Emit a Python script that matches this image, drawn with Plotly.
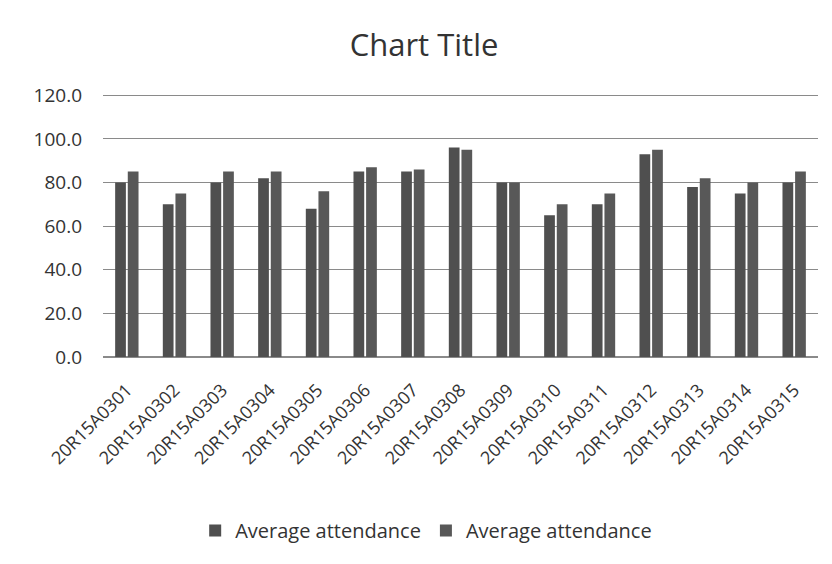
import plotly.graph_objects as go

students = ["20R15A0301", "20R15A0302", "20R15A0303", "20R15A0304", "20R15A0305",
            "20R15A0306", "20R15A0307", "20R15A0308", "20R15A0309", "20R15A0310",
            "20R15A0311", "20R15A0312", "20R15A0313", "20R15A0314", "20R15A0315"]
attendance_1 = [80, 70, 80, 82, 68, 85, 85, 96, 80, 65, 70, 93, 78, 75, 80]
attendance_2 = [85, 75, 85, 85, 76, 87, 86, 95, 80, 70, 75, 95, 82, 80, 85]
y_ticks = [0, 20, 40, 60, 80, 100, 120]

font = "Open Sans, Noto Sans, sans-serif"

fig = go.Figure()
fig.add_trace(go.Bar(x=students, y=attendance_1, name="Average attendance",
                     marker=dict(color="#4f4f4f", line=dict(width=0))))
fig.add_trace(go.Bar(x=students, y=attendance_2, name="Average attendance",
                     marker=dict(color="#585858", line=dict(width=0))))

fig.update_layout(
    width=832, height=564,
    paper_bgcolor="white", plot_bgcolor="white",
    font=dict(family=font, color="#333333"),
    title=dict(text="Chart Title", x=0.5, xanchor="center", y=0.934, yanchor="middle",
               font=dict(size=31, color="#333333", family=font)),
    margin=dict(l=95, r=22, t=84, b=215),
    barmode="group", bargap=0.47, bargroupgap=0.15,
    showlegend=True,
    legend=dict(orientation="h", x=0.452, xanchor="center", y=-0.655, yanchor="middle",
                font=dict(size=20, color="#333333"), itemwidth=30,
                traceorder="normal"),
)
fig.update_yaxes(range=[0, 121.5], tickvals=y_ticks, tickformat=".1f",
                 showgrid=True, gridcolor="#8a8a8a", gridwidth=1,
                 zeroline=True, zerolinecolor="#8a8a8a", showline=False,
                 tickfont=dict(size=19, color="#333333"), ticks="", ticklabelstandoff=20)
fig.update_xaxes(tickangle=-45, tickfont=dict(size=18, color="#333333"),
                 showline=False, ticks="", showgrid=False, ticklabelstandoff=18)

fig.write_html("out.html")
